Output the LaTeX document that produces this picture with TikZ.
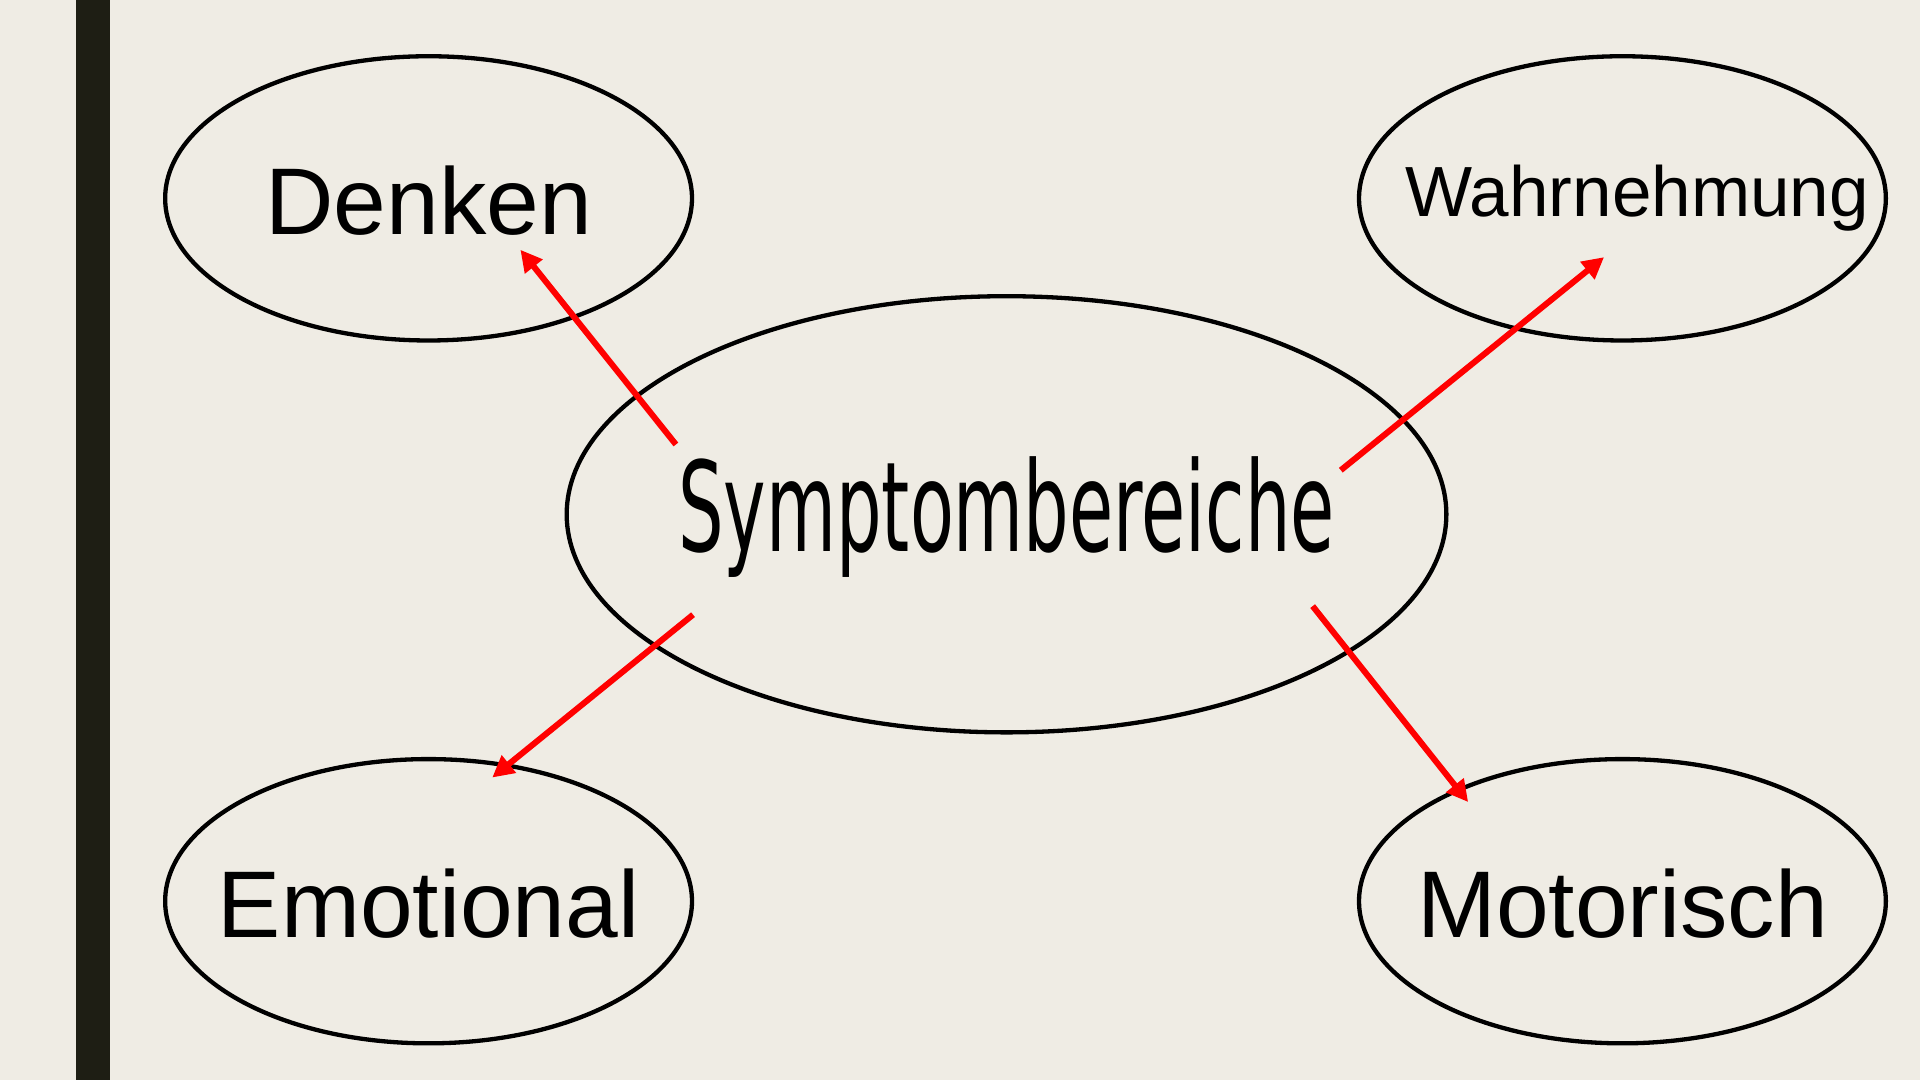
\documentclass[tikz,border=0pt]{standalone}
\usepackage{fontspec}
\setmainfont{Liberation Sans}
\newfontfamily\condfont{DejaVu Sans}
\usetikzlibrary{shapes.geometric,arrows.meta}
\definecolor{paper}{HTML}{EFECE4}
\definecolor{barcol}{HTML}{1E1E14}
\begin{document}
\begin{tikzpicture}[
        x=0.01cm, y=-0.01cm,
        area/.style={ellipse, draw, line width=1pt, minimum width=4.3cm, minimum height=2.32cm, inner sep=0pt},
        core/.style={ellipse, draw, line width=1pt, minimum width=7.18cm, minimum height=3.56cm, inner sep=0pt},
        label/.style={font=\fontsize{22}{26}\selectfont},
        link/.style={red, line width=1.4pt, -{Triangle[length=5pt,width=5pt]}}
    ]
        % background and bar
        \fill[paper] (0,0) rectangle (1568,882);
        \useasboundingbox (0,0) rectangle (1568,882);
        \fill[barcol] (62,0) rectangle (90,882);

        % centre
        \node[core] (sym) at (822,420) {};
        \node (symtext) at (822,422) {\condfont\fontsize{29}{33}\selectfont\scalebox{0.575}[1]{Symptombereiche}};

        % areas
        \node[area] (denken) at (350,162) {};
        \node[label] at (350,164) {Denken};
        \node[area] (wahr) at (1325,162) {};
        \node[font=\fontsize{16.5}{20}\selectfont] at (1337,162) {Wahrnehmung};
        \node[area] (emo) at (350,736) {};
        \node[label] at (350,738) {Emotional};
        \node[area] (moto) at (1325,736) {};
        \node[label] at (1325,738) {Motorisch};

        % arrow ends
        \coordinate (s1) at (552,363);
        \coordinate (t1) at (425,204);
        \coordinate (s2) at (1095,384);
        \coordinate (t2) at (1310,210);
        \coordinate (s3) at (566,502);
        \coordinate (t3) at (402,635);
        \coordinate (s4) at (1072,495);
        \coordinate (t4) at (1199,655);

        \draw[link] (s1) -- (t1);
        \draw[link] (s2) -- (t2);
        \draw[link] (s3) -- (t3);
        \draw[link] (s4) -- (t4);
    \end{tikzpicture}
\end{document}
